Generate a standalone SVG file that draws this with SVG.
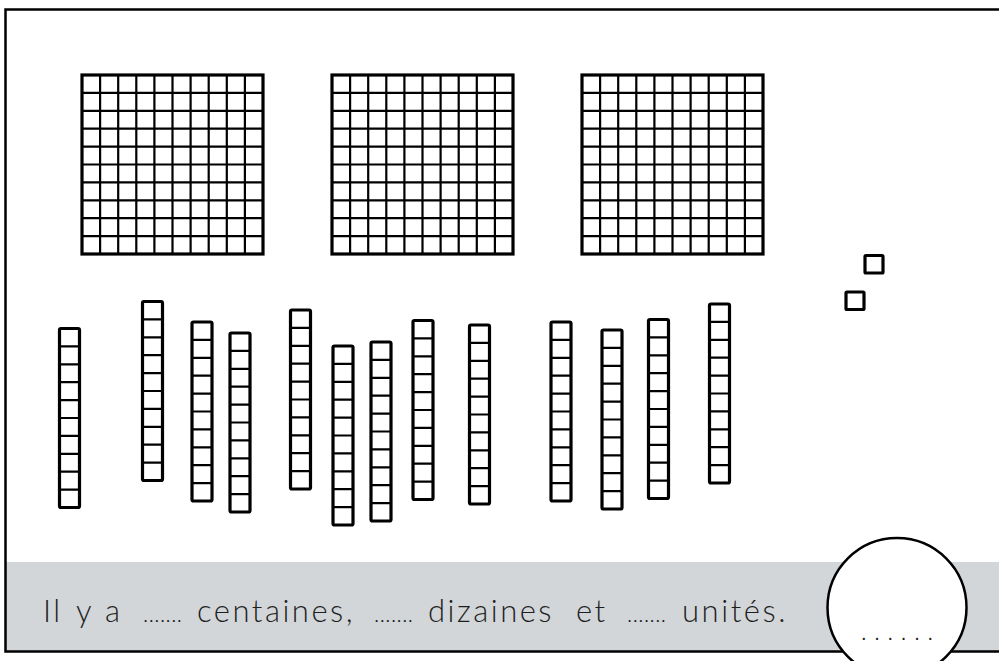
<svg xmlns="http://www.w3.org/2000/svg" xmlns:xlink="http://www.w3.org/1999/xlink" width="999" height="661" viewBox="0 0 999 661">
<style>
.outer{fill:#fff;stroke:#000;stroke-width:3.2}
.inner{stroke:#000;stroke-width:2.2;fill:none}
.unit{fill:#fff;stroke:#000;stroke-width:3.2}
.lbl{font-family:Lato,"Open Sans","Liberation Sans",sans-serif;font-weight:300;font-size:31px;fill:#1e1e1e;letter-spacing:2.5px}
.dots{font-size:22px;letter-spacing:0.5px}
</style>
<defs>
<g id="hundred">
<rect class="outer" x="0" y="0" width="181" height="179"/>
<path class="inner" d="M18.1 0V179M36.2 0V179M54.3 0V179M72.4 0V179M90.5 0V179M108.6 0V179M126.7 0V179M144.8 0V179M162.9 0V179M0 17.9H181M0 35.8H181M0 53.7H181M0 71.6H181M0 89.5H181M0 107.4H181M0 125.3H181M0 143.2H181M0 161.1H181"/>
</g>
<g id="rod">
<rect class="outer" x="0" y="0" width="20" height="179" rx="1.5"/>
<path class="inner" d="M0 17.9H20M0 35.8H20M0 53.7H20M0 71.6H20M0 89.5H20M0 107.4H20M0 125.3H20M0 143.2H20M0 161.1H20"/>
</g>
</defs>
<rect x="0" y="0" width="999" height="661" fill="#fff"/>
<g id="frame">
<rect x="6" y="562" width="1000" height="89" fill="#d2d6d9"/>
<path d="M1010 9.5H5.5V651.5H1010" fill="none" stroke="#000" stroke-width="2.5"/>
</g>
<g id="hundreds">
<use id="h1" xlink:href="#hundred" x="82" y="75"/>
<use id="h2" xlink:href="#hundred" x="332" y="75"/>
<use id="h3" xlink:href="#hundred" x="582" y="75"/>
</g>
<g id="tens">
<use id="t1" xlink:href="#rod" x="59.5" y="328.5"/>
<use id="t2" xlink:href="#rod" x="142.5" y="301.5"/>
<use id="t3" xlink:href="#rod" x="192" y="322"/>
<use id="t4" xlink:href="#rod" x="230" y="333"/>
<use id="t5" xlink:href="#rod" x="290.5" y="310"/>
<use id="t6" xlink:href="#rod" x="333" y="346"/>
<use id="t7" xlink:href="#rod" x="371" y="342"/>
<use id="t8" xlink:href="#rod" x="413" y="320.5"/>
<use id="t9" xlink:href="#rod" x="469.5" y="325"/>
<use id="t10" xlink:href="#rod" x="551" y="322"/>
<use id="t11" xlink:href="#rod" x="602" y="330"/>
<use id="t12" xlink:href="#rod" x="648.5" y="319.5"/>
<use id="t13" xlink:href="#rod" x="709.5" y="304"/>
</g>
<g id="units">
<rect id="u1" class="unit" x="865" y="255.5" width="18" height="17.5" rx="1"/>
<rect id="u2" class="unit" x="846" y="292" width="18" height="17.5" rx="1"/>
</g>
<g id="sentence">
<text class="lbl" y="622"><tspan x="43">Il</tspan><tspan x="76">y</tspan><tspan x="105">a</tspan><tspan class="dots" x="143">.......</tspan><tspan x="197">centaines,</tspan><tspan class="dots" x="374">.......</tspan><tspan x="428">dizaines</tspan><tspan x="576">et</tspan><tspan class="dots" x="627">.......</tspan><tspan x="682" textLength="106" lengthAdjust="spacing">unités.</tspan></text>
</g>
<g id="answer">
<circle cx="897" cy="607.5" r="69.5" fill="#fff" stroke="#000" stroke-width="2.5"/>
<text x="861" y="640" font-family="'Liberation Sans',sans-serif" font-size="20" fill="#222" textLength="72" lengthAdjust="spacing">......</text>
</g>
</svg>
